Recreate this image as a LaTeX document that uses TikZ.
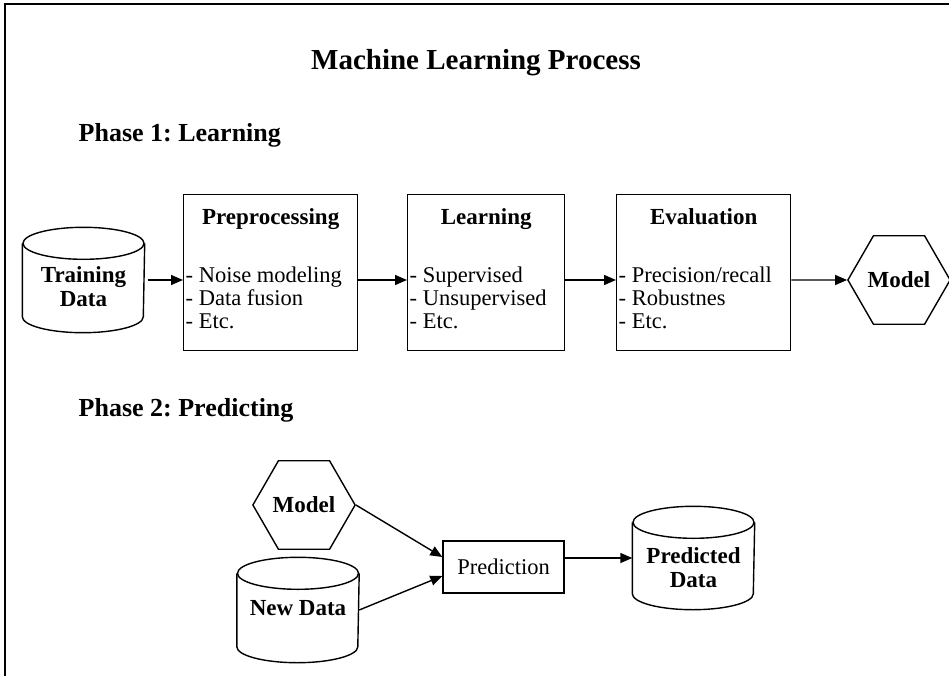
\documentclass[tikz,border=0pt]{standalone}
\usepackage{fontspec}
\setmainfont{Liberation Serif}
\usetikzlibrary{shapes.geometric,arrows.meta,positioning}
\frenchspacing
% drum outline around a named (undrawn) node
\newcommand\database[1]{%
  \draw ([yshift=-16pt]#1.north west) -- ([yshift=16pt]#1.south west)
    arc[start angle=180,end angle=360,x radius=60.5pt,y radius=16pt]
    -- ([yshift=-16pt]#1.north east);
  \draw ([yshift=-16pt]#1.north) ellipse[x radius=60.5pt,y radius=16pt];}

\begin{document}
\begin{tikzpicture}[x=1pt,y=-1pt,line width=1.4pt,
    every node/.style={inner sep=0pt,font=\fontsize{22.5}{23}\selectfont},
    stage/.style={draw,minimum width=174pt,minimum height=156pt,anchor=north west},
    head/.style={font=\fontsize{23}{23}\selectfont\bfseries,anchor=base},
    items/.style={align=left,anchor=base west},
    store/.style={minimum width=121pt,minimum height=104pt},
    storetext/.style={align=center,font=\fontsize{23}{24}\selectfont\bfseries},
    hexa/.style={draw,regular polygon,regular polygon sides=6,minimum size=99pt,
      font=\fontsize{23}{23}\selectfont\bfseries},
    phase/.style={font=\fontsize{26}{26}\selectfont\bfseries,anchor=base west},
    flow/.style={-{Triangle[length=12pt,width=10pt]}}]
  \useasboundingbox (0,0) rectangle (949,676);
  % frame
  \draw[line width=1.6pt] (949,4) -- (5,4) -- (5,676);

  \node[font=\fontsize{29}{29}\selectfont\bfseries,anchor=base] (title) at (476,70) {Machine Learning Process};

  % phase 1
  \node[phase] (phaseA) at (78,142) {Phase 1: Learning};
  \node[store] (train) at (83.5,280) {};
  \database{train}
  \node[storetext] at ([yshift=-7pt]train.center) {Training\\Data};
  \node[stage] (pre) at (183,194) {};
  \node[head] at ([yshift=-31pt]pre.north) {Preprocessing};
  \node[items] at ([xshift=2pt,yshift=-134pt]pre.north west) {- Noise modeling\\- Data fusion\\- Etc.};
  \node[stage,minimum width=157pt] (learn) at (407,194) {};
  \node[head] at ([yshift=-31pt]learn.north) {Learning};
  \node[items] at ([xshift=2pt,yshift=-134pt]learn.north west) {- Supervised\\- Unsupervised\\- Etc.};
  \node[stage] (eval) at (616,194) {};
  \node[head] at ([yshift=-31pt]eval.north) {Evaluation};
  \node[items] at ([xshift=2pt,yshift=-134pt]eval.north west) {- Precision/recall\\- Robustnes\\- Etc.};
  \node[hexa] (model) at (899,280) {Model};
  \draw[flow] ([xshift=3pt]train.east) -- (pre.west |- train);
  \draw[flow] (pre.east |- train) -- (learn.west |- train);
  \draw[flow] (learn.east |- train) -- (eval.west |- train);
  \draw[flow] (eval.east |- train) -- (model);

  % phase 2
  \node[phase] (phaseB) at (78,416) {Phase 2: Predicting};
  \node[hexa,minimum size=102pt] (modelB) at (304,505) {Model};
  \node[store] (newdata) at (298,610) {};
  \database{newdata}
  \node[storetext] at ([yshift=2pt]newdata.center) {New Data};
  \node[draw,minimum width=121pt,minimum height=52pt] (predict) at (503.5,567) {Prediction};
  \node[store,minimum height=102pt] (outdata) at (693.5,558) {};
  \database{outdata}
  \node[storetext] at ([yshift=-10pt]outdata.center) {Predicted\\Data};
  \draw[flow] (modelB.east) -- ([yshift=10pt]predict.west);
  \draw[flow] (newdata.east) -- ([yshift=-9pt]predict.west);
  \draw[flow] (predict.east |- outdata) -- (outdata);
\end{tikzpicture}
\end{document}
